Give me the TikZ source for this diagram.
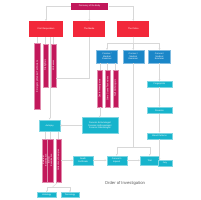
\documentclass[tikz,border=0pt]{standalone}
\usepackage{fontspec}
\setsansfont{Liberation Sans}
\usetikzlibrary{arrows.meta, calc}
\definecolor{crim}{HTML}{C2185B}
\definecolor{hotred}{HTML}{F2283A}
\definecolor{cblue}{HTML}{1A86C8}
\definecolor{ccyan}{HTML}{17B4CC}
\definecolor{lgrey}{HTML}{D8D8D8}
\definecolor{txtgrey}{HTML}{5A5A5A}

\begin{document}
\begin{tikzpicture}[x=1pt, y=-1pt, >={Stealth[length=1.8pt,width=1.8pt]},
  box/.style={inner sep=0.3pt, text=white, align=center,
              font=\sffamily\fontsize{2.2}{2.5}\selectfont},
  topbox/.style={box, fill=crim, minimum width=37.6, minimum height=7.3},
  redbox/.style={box, fill=hotred, minimum width=32, minimum height=15.7},
  bluebox/.style={box, fill=cblue, draw=cblue!55, line width=0.3pt,
                  minimum width=21, minimum height=13},
  cyanbox/.style={box, fill=ccyan, draw=ccyan!55, line width=0.3pt,
                  minimum height=6.3},
  bar/.style={box, fill=crim, draw=crim!50, line width=0.3pt, minimum width=5},
  link/.style={draw=lgrey, line width=0.4pt}]
  \fill[white] (0,0) rectangle (200,200);
  \useasboundingbox (0,0) rectangle (200,200);

  % top of the tree
  \node[topbox] (disc) at (89.5,6.3) {Discovery of the Body};
  \node[redbox, minimum width=34] (resp) at (46,28.9) {First Responders};
  \node[redbox] (media) at (89.2,28.9) {The Media};
  \node[redbox] (police) at (133.3,28.9) {The Police};

  % first responders
  \node[bar, minimum width=5.7, minimum height=65.3] (emt) at (37.2,76.3)
    {\rotatebox{90}{Emergency Medical Technicians}};
  \node[bar, minimum height=43] (fire) at (45.4,65.2)
    {\rotatebox{90}{Firefighters}};
  \node[bar, minimum height=43] (wit) at (53.4,65.2)
    {\rotatebox{90}{Witnesses}};

  % police side
  \node[bluebox] (ce1) at (107,56.5) {Coroner /\\Medical\\Examiner};
  \node[bluebox] (ce2) at (133.3,56.5) {Coroner /\\Medical\\Examiner};
  \node[bluebox, minimum width=22] (ce3) at (159.5,56.5) {Coroner /\\Medical\\Examiner};

  \node[bar, minimum height=36.7] (inv1) at (99.8,88.4)
    {\rotatebox{90}{Death Investigators}};
  \node[bar, minimum height=36.7] (inv2) at (107.5,88.4)
    {\rotatebox{90}{Crime Scene Technicians}};
  \node[bar, minimum height=36.7] (inv3) at (115.2,88.4)
    {\rotatebox{90}{Staff Pathologists}};

  \node[cyanbox, minimum width=35.7, minimum height=16] (fsp) at (99.9,125.5)
    {Forensic Entomologist\\Forensic Anthropologist\\Forensic Odontologist};
  \node[cyanbox, minimum width=20.7, minimum height=11.7] (aut) at (49.7,125.5)
    {Autopsy};

  \node[cyanbox, minimum width=24.4] (fgp) at (159.5,84.2) {Fingerprints};
  \node[cyanbox, minimum width=24.4] (fa) at (159.5,110.3) {Firearms};
  \node[cyanbox, minimum width=24.4] (bp) at (159.5,136) {Blood Patterns};

  % autopsy
  \node[bar, minimum height=42.7] (ext) at (44.8,160.3)
    {\rotatebox{90}{\begin{tabular}{@{}c@{}}External\\Examination\end{tabular}}};
  \node[bar, minimum width=4.7, minimum height=42.7] (int) at (50.3,160.3)
    {\rotatebox{90}{\begin{tabular}{@{}c@{}}Internal\\Examination\end{tabular}}};
  \node[bar, minimum height=42.7] (smp) at (58.5,160.3)
    {\rotatebox{90}{Collection of Samples}};

  \node[cyanbox, minimum width=18.7, minimum height=5] (his) at (46.7,194.8) {Histology};
  \node[cyanbox, minimum width=18.7, minimum height=5] (tox) at (70,194.8) {Toxicology};

  \node[cyanbox, minimum width=19.4, minimum height=9] (dc) at (83,160.4)
    {Death\\Certificate};
  \node[cyanbox, minimum width=20, minimum height=9.3] (inq) at (116.7,160.4)
    {Coroner's\\Inquest};
  \node[cyanbox, minimum width=19.3, minimum height=9.3] (trial) at (149.7,160.4)
    {Trial};
  \node[cyanbox, minimum width=13.4, minimum height=5.5] (jury) at (165,163) {Jury};

  \node[text=txtgrey, font=\sffamily\fontsize{4.2}{5}\selectfont] (title)
    at (125,183) {Order of Investigation};

  % connectors
  \draw[link,->] (disc.west) -| (resp.north);
  \draw[link,->] (disc) -- (media);
  \draw[link,->] (disc.east) -| (police.north);

  \foreach \b in {emt,fire,wit}
    \draw[link] (\b.north |- resp.south) -- (\b.north);
  \draw[link,->] (aut.north |- resp.south) -- (aut.north);
  \draw[link] (media.south) |- ([yshift=8.7pt]wit.south east);

  \draw[link] (police.south) -- ($(police.south)!.5!(ce2.north)$) coordinate (pbus);
  \foreach \b in {ce1,ce2,ce3}
    \draw[link,->] (pbus) -| (\b.north);

  \foreach \b in {inv1,inv2,inv3}
    \draw[link] (\b.north |- ce1.south) -- (\b.north);
  \draw[link,->] (inv1.south) -- (inv1.south |- fsp.north);
  \draw[link,->] (fsp) -- (aut);

  \draw[link,->] (ce3) -- (fgp);
  \draw[link,->] (fgp) -- (fa);
  \draw[link,->] (fa) -- (bp);
  \draw[link,->] (bp.south) -- (bp.south |- jury.north);

  \coordinate (cbus) at (133.3,146.7);
  \draw[link] (ce2) -- (cbus);
  \draw[link,->] (cbus) -| (inq.north);
  \draw[link,->] (cbus) -| (trial.north);

  \foreach \b in {ext,int,smp}
    \draw[link] (\b.north |- aut.south) -- (\b.north);
  \draw[link,->] (smp.east |- dc.west) -- (dc.west);
  \draw[link,->] (dc) -- (inq);
  \draw[link,->] (inq) -- (trial);
  \draw[link] (smp.south) -- ($(smp.south)!.5!(his.north)$) coordinate (hbus);
  \draw[link,->] (hbus) -| (his.north);
  \draw[link,->] (hbus) -| (tox.north);
\end{tikzpicture}
\end{document}
